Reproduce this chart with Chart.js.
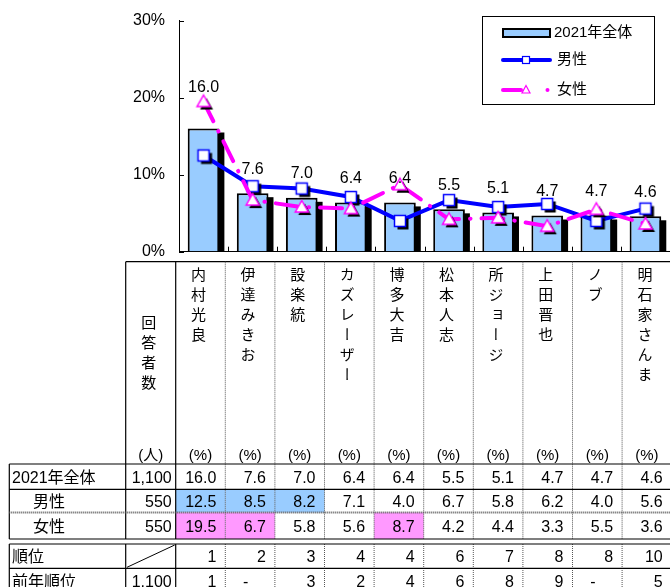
<!DOCTYPE html>
<html>
<head>
<meta charset="utf-8">
<script src="https://cdn.jsdelivr.net/npm/chart.js@4.4.1/dist/chart.umd.min.js"></script>
<style>
  html, body { margin: 0; padding: 0; background: #fff; overflow: hidden; }
  body { width: 670px; height: 587px; position: relative; font-family: "Liberation Sans", "Noto Sans CJK JP", sans-serif; }
  #chartBox { position: absolute; left: 0; top: 0; width: 680px; height: 262px; }
  #lines { position: absolute; left: 0; top: 0; }
  .t { position: absolute; font-size: 16px; line-height: 20px; white-space: nowrap; color: #000; }
  .vwrap { position: absolute; display: flex; justify-content: center; }
  .vname { writing-mode: vertical-rl; text-orientation: upright; font-family: "Noto Sans CJK JP", sans-serif; font-size: 15px; letter-spacing: 5px; line-height: 15px; }
</style>
</head>
<body>
<div id="chartBox"><canvas id="chart" width="680" height="262"></canvas></div>
<svg id="lines" width="680" height="587"></svg>
<div id="cells"></div>
<script>
// data
const categories = ["内村光良", "伊達みきお", "設楽統", "カズレーザー", "博多大吉", "松本人志", "所ジョージ", "上田晋也", "ノブ", "明石家さんま"];
const total2021 = [16.0, 7.6, 7.0, 6.4, 6.4, 5.5, 5.1, 4.7, 4.7, 4.6];
const male = [12.5, 8.5, 8.2, 7.1, 4.0, 6.7, 5.8, 6.2, 4.0, 5.6];
const female = [19.5, 6.7, 5.8, 5.6, 8.7, 4.2, 4.4, 3.3, 5.5, 3.6];
const yTicks = [0, 10, 20, 30];
const seriesNames = ["2021年全体", "男性", "女性"];
const respondents = ["1,100", "550", "550"];
const ranks = ["1", "2", "3", "4", "4", "6", "7", "8", "8", "10"];
const prevRespondents = "1,100";
const prevRanks = ["1", "-", "3", "2", "4", "6", "8", "9", "-", "5"];

const BLUE_FILL = "#99ccff";
const PINK_FILL = "#ff99ff";

// point markers with a hard black shadow
function squareMarker() {
  const c = document.createElement("canvas");
  c.width = 22; c.height = 22;
  const g = c.getContext("2d");
  g.fillStyle = "#000";
  g.fillRect(8.5, 8.5, 11, 11);
  g.fillStyle = "#fff";
  g.fillRect(5.5, 5.5, 11, 11);
  g.strokeStyle = "#0000ff";
  g.lineWidth = 1.5;
  g.strokeRect(5.5, 5.5, 11, 11);
  return c;
}
function triangleMarker() {
  const c = document.createElement("canvas");
  c.width = 24; c.height = 24;
  const g = c.getContext("2d");
  const tri = (dx, dy) => {
    g.beginPath();
    g.moveTo(12 + dx, 5.5 + dy);
    g.lineTo(18.5 + dx, 17 + dy);
    g.lineTo(5.5 + dx, 17 + dy);
    g.closePath();
  };
  tri(3, 3);
  g.fillStyle = "#000";
  g.fill();
  tri(0, 0);
  g.fillStyle = "#fff";
  g.fill();
  g.strokeStyle = "#ff00ff";
  g.lineWidth = 1.5;
  g.stroke();
  return c;
}

// black drop shadow behind each bar, taken from the bar elements
const barShadow = {
  id: "barShadow",
  beforeDatasetDraw(chart, args) {
    if (chart.data.datasets[args.index].type !== "bar") return;
    const ctx = chart.ctx;
    const bottom = chart.chartArea.bottom;
    ctx.save();
    ctx.fillStyle = "#000";
    args.meta.data.forEach(el => {
      const p = el.getProps(["x", "y", "base", "width"], true);
      const left = p.x - p.width / 2 + 5;
      const top = p.y + 4;
      ctx.fillRect(left, top, p.width, Math.min(p.base, bottom) - top);
    });
    ctx.restore();
  }
};

const innerTicks = {
  id: "innerTicks",
  afterDraw(chart) {
    const ctx = chart.ctx;
    const a = chart.chartArea;
    const x = chart.scales.x, y = chart.scales.y;
    ctx.save();
    ctx.strokeStyle = "#000";
    ctx.lineWidth = 1;
    ctx.beginPath();
    yTicks.forEach(v => {
      const py = Math.round(y.getPixelForValue(v)) + 0.5;
      ctx.moveTo(a.left, py);
      ctx.lineTo(a.left + 5, py);
    });
    for (let i = 1; i < categories.length; i++) {
      const px = Math.round((x.getPixelForValue(i - 1) + x.getPixelForValue(i)) / 2) + 0.5;
      ctx.moveTo(px, a.bottom);
      ctx.lineTo(px, a.bottom - 5);
    }
    ctx.stroke();
    ctx.restore();
  }
};

const barLabels = {
  id: "barLabels",
  afterDatasetsDraw(chart) {
    const ctx = chart.ctx;
    const idx = chart.data.datasets.findIndex(d => d.type === "bar");
    const meta = chart.getDatasetMeta(idx);
    ctx.save();
    ctx.font = "16px 'Liberation Sans'";
    ctx.fillStyle = "#000";
    ctx.textAlign = "center";
    ctx.textBaseline = "middle";
    meta.data.forEach((el, i) => {
      const lift = i === 0 ? 41 : 24;
      ctx.fillText(total2021[i].toFixed(1), el.x, el.y - lift);
    });
    ctx.restore();
  }
};

const legendBox = {
  id: "legendBox",
  afterDraw(chart) {
    const ctx = chart.ctx;
    ctx.save();
    ctx.fillStyle = "#fff";
    ctx.fillRect(482.5, 16.5, 172, 88);
    ctx.strokeStyle = "#000";
    ctx.lineWidth = 1;
    ctx.strokeRect(482.5, 16.5, 172, 88);

    // bar sample
    ctx.fillStyle = "#000";
    ctx.fillRect(502, 28, 49, 10);
    ctx.fillStyle = BLUE_FILL;
    ctx.fillRect(504, 30, 45, 6);

    // male sample
    ctx.strokeStyle = "#0000ff";
    ctx.lineWidth = 4;
    ctx.lineCap = "round";
    ctx.beginPath();
    ctx.moveTo(503, 60); ctx.lineTo(550, 60);
    ctx.stroke();
    ctx.fillStyle = "#fff";
    ctx.fillRect(522.5, 56.5, 7, 7);
    ctx.lineWidth = 1.2;
    ctx.strokeRect(522.5, 56.5, 7, 7);

    // female sample
    ctx.strokeStyle = "#ff00ff";
    ctx.lineWidth = 4;
    ctx.beginPath();
    ctx.moveTo(503, 90); ctx.lineTo(521, 90);
    ctx.stroke();
    ctx.beginPath();
    ctx.moveTo(526, 85.5); ctx.lineTo(530, 93); ctx.lineTo(522, 93); ctx.closePath();
    ctx.fillStyle = "#fff";
    ctx.fill();
    ctx.lineWidth = 1.2;
    ctx.stroke();
    ctx.fillStyle = "#ff00ff";
    ctx.beginPath();
    ctx.arc(547.5, 90, 2, 0, Math.PI * 2);
    ctx.fill();

    ctx.fillStyle = "#000";
    ctx.font = "15px 'Liberation Sans', 'Noto Sans CJK JP'";
    ctx.textBaseline = "middle";
    ctx.fillText(seriesNames[0], 554, 33);
    ctx.fillText(seriesNames[1], 557, 60);
    ctx.fillText(seriesNames[2], 557, 90);
    ctx.restore();
  }
};

new Chart(document.getElementById("chart").getContext("2d"), {
  data: {
    labels: categories,
    datasets: [
      {
        type: "line",
        label: seriesNames[2],
        data: female,
        borderColor: "#ff00ff",
        borderWidth: 4,
        borderDash: [22, 11, 0.5, 11],
        borderCapStyle: "round",
        pointStyle: triangleMarker(),
        pointRadius: 6,
        order: 1
      },
      {
        type: "line",
        label: seriesNames[1],
        data: male,
        borderColor: "#0000ff",
        borderWidth: 4,
        pointStyle: squareMarker(),
        pointRadius: 6,
        order: 2
      },
      {
        type: "bar",
        label: seriesNames[0],
        data: total2021,
        backgroundColor: BLUE_FILL,
        borderColor: "#000",
        borderWidth: 2,
        barPercentage: 0.645,
        categoryPercentage: 1,
        order: 3
      }
    ]
  },
  options: {
    responsive: false,
    animation: false,
    layout: { padding: { top: 20.7, right: 5, left: 0, bottom: 10.3 } },
    plugins: { legend: { display: false }, tooltip: { enabled: false } },
    scales: {
      x: {
        grid: { display: false },
        border: { color: "#000", width: 1 },
        ticks: { display: false },
        afterFit: s => { s.height = 0; }
      },
      y: {
        min: 0,
        max: 30,
        ticks: {
          stepSize: 10,
          padding: 14,
          color: "#000",
          font: { family: "'Liberation Sans'", size: 16 },
          callback: v => v + "%"
        },
        grid: { drawOnChartArea: false, drawTicks: false },
        border: { color: "#000", width: 1 },
        afterFit: s => {
          s.width = 179;
          s.paddingTop = 0;
          s.paddingBottom = 0;
        }
      }
    }
  },
  plugins: [barShadow, innerTicks, barLabels, legendBox]
});

// ---- data table under the chart ----
const colX0 = 175.7, colW = 49.6, tableRight = 680;
const rowY = [464, 489.3, 512.5, 539, 544, 568.3, 593];
const svg = document.getElementById("lines");
const cells = document.getElementById("cells");
const NS = "http://www.w3.org/2000/svg";

function rect(x, y, w, h, fill) {
  const r = document.createElementNS(NS, "rect");
  r.setAttribute("x", x); r.setAttribute("y", y);
  r.setAttribute("width", w); r.setAttribute("height", h);
  r.setAttribute("fill", fill);
  svg.appendChild(r);
}
function line(x1, y1, x2, y2, dotted, w) {
  const l = document.createElementNS(NS, "line");
  l.setAttribute("x1", x1); l.setAttribute("y1", y1);
  l.setAttribute("x2", x2); l.setAttribute("y2", y2);
  l.setAttribute("stroke", dotted ? "#555" : "#000");
  l.setAttribute("stroke-width", w || 1.2);
  if (dotted) l.setAttribute("stroke-dasharray", "1 1");
  svg.appendChild(l);
}
function text(s, x, y, w, align, size) {
  const d = document.createElement("div");
  d.className = "t";
  d.textContent = s;
  d.style.left = x + "px";
  d.style.top = (y - 10) + "px";
  d.style.width = w + "px";
  d.style.textAlign = align;
  if (size) d.style.fontSize = size + "px";
  cells.appendChild(d);
}
const colLeft = i => colX0 + colW * i;

// top three per gender get a fill
const top3 = arr => arr.map((v, i) => i).sort((a, b) => arr[b] - arr[a]).slice(0, 3);
top3(male).forEach(i => rect(colLeft(i), rowY[1], colW, rowY[2] - rowY[1], BLUE_FILL));
top3(female).forEach(i => rect(colLeft(i), rowY[2], colW, rowY[3] - rowY[2], PINK_FILL));

// grid lines
line(125.7, 261.7, tableRight, 261.7);
[[261.7, rowY[3]], [rowY[4], rowY[6]]].forEach(([a, b]) => {
  line(125.7, a, 125.7, b);
  line(colX0, a, colX0, b);
  for (let i = 1; i < categories.length; i++) line(colLeft(i), a, colLeft(i), b, true, 1);
});
line(9.3, rowY[0], 9.3, rowY[3]);
line(9.3, rowY[4], 9.3, rowY[6]);
line(9.3, rowY[0], tableRight, rowY[0]);
line(9.3, rowY[1], tableRight, rowY[1]);
line(9.3, rowY[2], tableRight, rowY[2], true, 2);
line(9.3, rowY[3], tableRight, rowY[3]);
line(9.3, rowY[4], tableRight, rowY[4]);
line(9.3, rowY[5], tableRight, rowY[5]);
line(127, rowY[5] - 1, colX0 - 1, rowY[4] + 1, false, 1);

// header: vertical names
function vtext(s, left, width, top) {
  const w = document.createElement("div");
  w.className = "vwrap";
  w.style.left = (left - 2) + "px";
  w.style.width = width + "px";
  w.style.top = top + "px";
  const sp = document.createElement("span");
  sp.className = "vname";
  sp.textContent = s;
  w.appendChild(sp);
  cells.appendChild(w);
}
vtext("回答者数", 125.7, 50, 315);
categories.forEach((c, i) => vtext(c, colLeft(i), colW, 267));
text("(人)", 125.7, 455, 50, "center", 15);
categories.forEach((c, i) => text("(%)", colLeft(i), 455, colW, "center", 15));

// body rows
const centers = rowY.slice(0, -1).map((y, i) => (y + rowY[i + 1]) / 2);
const rowLabels = [[seriesNames[0], 12], [seriesNames[1], 33], [seriesNames[2], 33]];
const rowData = [total2021, male, female];
rowLabels.forEach(([lab, ind], r) => {
  text(lab, ind, centers[r] + 1, 110, "left");
  text(respondents[r], 125.7, centers[r] + 1, 46, "right");
  rowData[r].forEach((v, i) => text(v.toFixed(1), colLeft(i), centers[r] + 1, colW - 9, "right"));
});
text("順位", 12, centers[4] + 1, 110, "left");
ranks.forEach((v, i) => text(v, colLeft(i), centers[4] + 1, colW - 9, "right"));
text("前年順位", 12, centers[5] + 1, 110, "left");
text(prevRespondents, 125.7, centers[5] + 1, 46, "right");
prevRanks.forEach((v, i) => text(v, colLeft(i), centers[5] + 1, colW - 9, v === "-" ? "center" : "right"));
</script>
</body>
</html>
